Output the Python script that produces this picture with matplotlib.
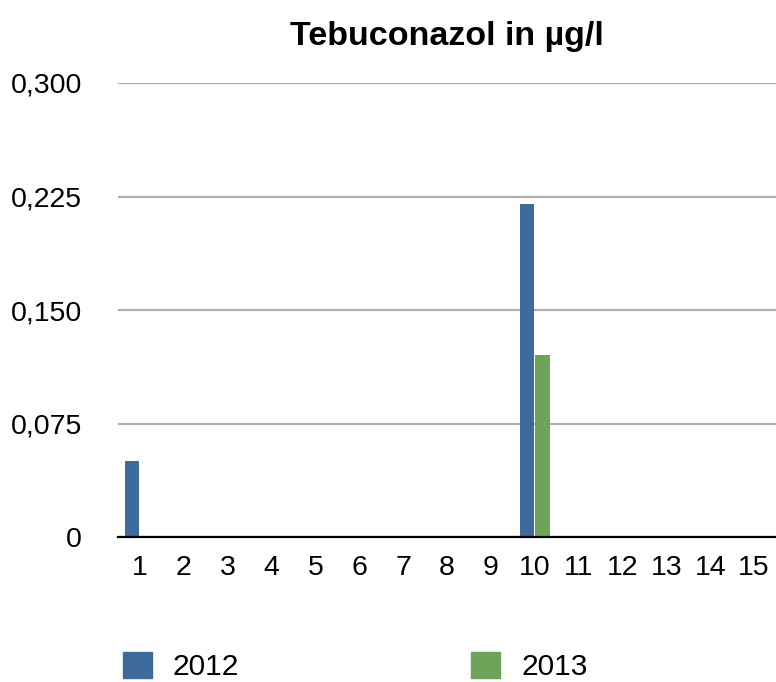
import numpy as np
import matplotlib
matplotlib.use("Agg")
import matplotlib.pyplot as plt
from matplotlib.patches import Patch

# Data
categories = [str(i) for i in range(1, 16)]
vals_2012 = [0.05, 0, 0, 0, 0, 0, 0, 0, 0, 0.22, 0, 0, 0, 0, 0]
vals_2013 = [0, 0, 0, 0, 0, 0, 0, 0, 0, 0.12, 0, 0, 0, 0, 0]
yticks = [0, 0.075, 0.150, 0.225, 0.300]
ytick_labels = ["0", "0,075", "0,150", "0,225", "0,300"]
series_names = ["2012", "2013"]

blue = "#3d6b9b"
green = "#6ea35a"

plt.rcParams["font.family"] = ["Liberation Sans", "DejaVu Sans"]

fig = plt.figure(figsize=(7.76, 6.82), dpi=100)
ax = fig.add_axes([0.152, 0.2126, 0.848, 0.6657])

x = np.arange(len(categories))
w = 0.33
ax.bar(x - 0.18, vals_2012, width=w, color=blue, zorder=3)
ax.bar(x + 0.18, vals_2013, width=w, color=green, zorder=3)

ax.set_xlim(-0.5, len(categories) - 0.5)
ax.set_ylim(0, 0.3)
ax.set_xticks(x)
ax.set_xticklabels(categories)
ax.set_yticks(yticks)
ax.set_yticklabels(ytick_labels)
ax.tick_params(axis="both", length=0, labelsize=20.5)
ax.tick_params(axis="x", pad=13)
ax.tick_params(axis="y", pad=26)

ax.yaxis.grid(True, color="#aeaeae", linewidth=1.6, zorder=0)
ax.set_axisbelow(True)
for s in ["top", "right", "left"]:
    ax.spines[s].set_visible(False)
ax.spines["bottom"].set_linewidth(1.6)
ax.spines["bottom"].set_zorder(4)

ax.set_title("Tebuconazol in µg/l", fontsize=24.5, fontweight="bold", pad=27)

handles = [Patch(color=blue), Patch(color=green)]
fig.legend(handles, series_names, loc="upper left", bbox_to_anchor=(0.158, 0.044),
           ncol=2, frameon=False, fontsize=21.5, handlelength=0.97, handleheight=0.97,
           handletextpad=0.7, columnspacing=7.78, borderaxespad=0, borderpad=0)

fig.savefig("out.png", dpi=100)
